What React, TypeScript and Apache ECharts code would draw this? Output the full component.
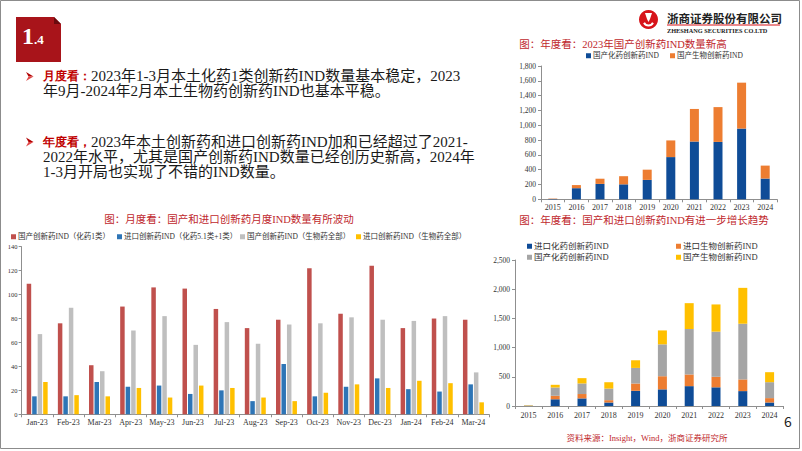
import React, { useEffect, useRef } from 'react';
import * as echarts from 'echarts';

// ---------- data ----------
const months = ['Jan-23', 'Feb-23', 'Mar-23', 'Apr-23', 'May-23', 'Jun-23', 'Jul-23', 'Aug-23', 'Sep-23', 'Oct-23', 'Nov-23', 'Dec-23', 'Jan-24', 'Feb-24', 'Mar-24'];
const monthlyDomesticChem = [109, 76, 41, 90, 106, 105, 88, 72, 79, 122, 84, 124, 72, 80, 79];
const monthlyImportChem = [15, 15, 27, 23, 24, 17, 20, 11, 42, 15, 23, 30, 21, 19, 25];
const monthlyDomesticBio = [67, 89, 36, 70, 82, 58, 77, 59, 75, 76, 81, 79, 78, 82, 35];
const monthlyImportBio = [27, 16, 15, 22, 14, 24, 22, 14, 11, 18, 25, 22, 28, 26, 10];
const monthlyNames = ['国产创新药IND（化药1类）', '进口创新药IND（化药5.1类+1类）', '国产创新药IND（生物药全部）', '进口创新药IND（生物药全部）'];

const years = ['2015', '2016', '2017', '2018', '2019', '2020', '2021', '2022', '2023', '2024'];
const annualDomesticChem = [5, 150, 208, 202, 262, 570, 780, 775, 955, 280];
const annualDomesticBio = [5, 42, 70, 110, 138, 225, 440, 470, 620, 175];
const annualNames = ['国产化药创新药IND', '国产生物创新药IND'];

const allImportChem = [3, 115, 130, 60, 260, 285, 340, 320, 255, 60];
const allImportBio = [2, 60, 75, 40, 125, 225, 200, 180, 200, 75];
const allDomesticChem = [5, 142, 181, 198, 267, 546, 778, 773, 954, 273];
const allDomesticBio = [5, 46, 91, 109, 131, 238, 443, 466, 614, 171];
const allNames = ['进口化药创新药IND', '进口生物创新药IND', '国产化药创新药IND', '国产生物创新药IND'];

const bullet1 = ['{r|月度看：}2023年1-3月本土化药1类创新药IND数量基本稳定，2023', '年9月-2024年2月本土生物药创新药IND也基本平稳。'];
const bullet2 = ['{r|年度看，}2023年本土创新药和进口创新药IND加和已经超过了2021-', '2022年水平，尤其是国产创新药IND数量已经创历史新高，2024年', '1-3月开局也实现了不错的IND数量。'];

// ---------- styles ----------
const SERIF = "'Liberation Serif', 'Times New Roman', 'Noto Sans CJK SC', serif";
const SANS = "'Noto Sans CJK SC', 'Noto Sans', sans-serif";
const RED_T = '#C0282D';
const AX = '#8f8f8f';
const fmt = (v: number) => v.toLocaleString('en-US');

const legendOne = (name: string, left: number, top: number, fontSize: number) => ({
  data: [name], left, top, padding: 0, itemWidth: 5, itemHeight: 5, icon: 'rect', selectedMode: false,
  textStyle: { fontSize, color: '#333', fontFamily: SERIF, padding: [0, 0, 0, -3] },
});

function txt(text: string, x: number, y: number, size: number, fill: string, align = 'left', extra: any = {}) {
  return { type: 'text', silent: true, style: { text, x, y, fill, font: `${size}px ${SERIF}`, textAlign: align, textVerticalAlign: 'middle', ...extra } };
}

export default function App() {
  const r1 = useRef<HTMLDivElement>(null);
  const r2 = useRef<HTMLDivElement>(null);
  const r3 = useRef<HTMLDivElement>(null);

  useEffect(() => {
    const c1 = echarts.init(r1.current!, undefined, { renderer: 'svg' });
    const c2 = echarts.init(r2.current!, undefined, { renderer: 'svg' });
    const c3 = echarts.init(r3.current!, undefined, { renderer: 'svg' });

    const rich = { r: { fill: '#C00000', fontWeight: 'bold', font: `bold 15px ${SERIF}` } };
    const graphics: any[] = [
      { type: 'rect', silent: true, shape: { x: 0.5, y: 0.5, width: 799, height: 448 }, style: { fill: 'none', stroke: '#8c8c8c', lineWidth: 1 } },
      // header box
      { type: 'polygon', silent: true, shape: { points: [[16, 17], [54, 17], [61, 24], [61, 62], [16, 62]] }, style: { fill: '#A8141A' } },
      { type: 'polygon', silent: true, shape: { points: [[54, 17], [61, 24], [54, 24]] }, style: { fill: '#6A0A0E' } },
      txt('1', 22, 36, 24, '#fff', 'left', { font: `bold 24px ${SERIF}` }),
      txt('.4', 34, 39, 13, '#fff', 'left', { font: `bold 13px ${SERIF}` }),
      // logo
      { type: 'circle', silent: true, shape: { cx: 648.5, cy: 19.5, r: 9.5 }, style: { fill: '#D7141A' } },
      { type: 'arc', silent: true, shape: { cx: 648.5, cy: 20.5, r: 5, startAngle: Math.PI * 0.15, endAngle: Math.PI * 0.85 }, style: { stroke: '#fff', lineWidth: 2, fill: 'none' } },
      { type: 'polygon', silent: true, shape: { points: [[645, 13], [652, 13], [650, 19], [648.5, 22], [647, 19]] }, style: { fill: '#fff' } },
      txt('浙商证券股份有限公司', 667, 18, 11.5, '#222', 'left', { font: `bold 11.5px ${SANS}` }),
      { type: 'line', silent: true, shape: { x1: 667, y1: 25, x2: 780, y2: 25 }, style: { stroke: '#D7141A', lineWidth: 1.2 } },
      txt('ZHESHANG SECURITIES CO.LTD', 667, 30.5, 6.3, '#222', 'left', { font: `bold 6.3px ${SERIF}` }),
      // bullets
      { type: 'polygon', silent: true, shape: { points: [[26, 72], [33.5, 76.5], [28.5, 76.5]] }, style: { fill: '#B00000' } },
      { type: 'polygon', silent: true, shape: { points: [[26, 81], [33.5, 76.5], [28.5, 76.5]] }, style: { fill: '#E04848' } },
      { type: 'polygon', silent: true, shape: { points: [[26, 137.5], [33.5, 142], [28.5, 142]] }, style: { fill: '#B00000' } },
      { type: 'polygon', silent: true, shape: { points: [[26, 146.5], [33.5, 142], [28.5, 142]] }, style: { fill: '#E04848' } },
      ...bullet1.map((t, i) => txt(t, 43, 76 + i * 15, 15, '#1a1a1a', 'left', { rich })),
      ...bullet2.map((t, i) => txt(t, 43, 141.5 + i * 15.3, 15, '#1a1a1a', 'left', { rich })),
      // chart titles
      txt('图：月度看：国产和进口创新药月度IND数量有所波动', 229, 219, 10.5, RED_T, 'center'),
      txt('图：年度看：2023年国产创新药IND数量新高', 623, 44, 10.5, RED_T, 'center'),
      txt('图：年度看：国产和进口创新药IND有进一步增长趋势', 644, 220, 10.5, RED_T, 'center'),
      txt('资料来源：Insight，Wind，浙商证券研究所', 647, 438, 8.5, RED_T, 'center'),
      txt('6', 788, 421, 14, '#222', 'center', { font: `14px ${SANS}` }),
    ];

    c1.setOption({
      animation: false,
      textStyle: { fontFamily: SERIF },
      graphic: { elements: graphics },
      legend: [
        legendOne(monthlyNames[0], 11, 233, 7.5),
        legendOne(monthlyNames[1], 117, 233, 7.5),
        legendOne(monthlyNames[2], 240, 233, 7.5),
        legendOne(monthlyNames[3], 356, 233, 7.5),
      ],
      grid: { left: 21.6, top: 246.7, width: 467.4, height: 167.6 },
      xAxis: {
        type: 'category', data: months,
        axisLine: { lineStyle: { color: AX } },
        axisTick: { show: true, length: 3, lineStyle: { color: AX } },
        axisLabel: { fontSize: 8, color: '#333', margin: 4, interval: 0, fontFamily: SERIF },
      },
      yAxis: {
        type: 'value', min: 0, max: 140, interval: 20,
        axisLine: { show: true, lineStyle: { color: AX } },
        axisTick: { show: true, length: 3, lineStyle: { color: AX } },
        splitLine: { show: false },
        axisLabel: { fontSize: 6.5, color: '#333', margin: 4, fontFamily: SERIF },
      },
      series: [
        { name: monthlyNames[0], type: 'bar', data: monthlyDomesticChem, barWidth: 4.5, barGap: '22%', itemStyle: { color: '#C0504D' } },
        { name: monthlyNames[1], type: 'bar', data: monthlyImportChem, barWidth: 4.5, barGap: '22%', itemStyle: { color: '#2E75B6' } },
        { name: monthlyNames[2], type: 'bar', data: monthlyDomesticBio, barWidth: 4.5, barGap: '22%', itemStyle: { color: '#BFBFBF' } },
        { name: monthlyNames[3], type: 'bar', data: monthlyImportBio, barWidth: 4.5, barGap: '22%', itemStyle: { color: '#FFC000' } },
      ],
    });

    c2.setOption({
      animation: false,
      textStyle: { fontFamily: SERIF },
      legend: [legendOne(annualNames[0], 586, 52, 7.5), legendOne(annualNames[1], 670, 52, 7.5)],
      grid: { left: 541, top: 66, width: 236, height: 133.3 },
      xAxis: {
        type: 'category', data: years,
        axisLine: { lineStyle: { color: AX } },
        axisTick: { show: true, length: 3, lineStyle: { color: AX } },
        axisLabel: { fontSize: 8, color: '#333', margin: 4, interval: 0, fontFamily: SERIF },
      },
      yAxis: {
        type: 'value', min: 0, max: 1800, interval: 200,
        axisLine: { show: true, lineStyle: { color: AX } },
        axisTick: { show: true, length: 3, lineStyle: { color: AX } },
        splitLine: { show: false },
        axisLabel: { fontSize: 7.5, color: '#333', margin: 5, formatter: fmt, fontFamily: SERIF },
      },
      series: [
        { name: annualNames[0], type: 'bar', stack: 'a', data: annualDomesticChem, barWidth: 9, itemStyle: { color: '#0F4C97' } },
        { name: annualNames[1], type: 'bar', stack: 'a', data: annualDomesticBio, barWidth: 9, itemStyle: { color: '#ED7D31' } },
      ],
    });

    c3.setOption({
      animation: false,
      textStyle: { fontFamily: SERIF },
      legend: [
        legendOne(allNames[0], 527, 242, 8.5),
        legendOne(allNames[1], 676, 242, 8.5),
        legendOne(allNames[2], 527, 253, 8.5),
        legendOne(allNames[3], 676, 253, 8.5),
      ],
      grid: { left: 515, top: 260, width: 268, height: 146 },
      xAxis: {
        type: 'category', data: years,
        axisLine: { lineStyle: { color: AX } },
        axisTick: { show: true, length: 3, lineStyle: { color: AX } },
        axisLabel: { fontSize: 8, color: '#333', margin: 5, interval: 0, fontFamily: SERIF },
      },
      yAxis: {
        type: 'value', min: 0, max: 2500, interval: 500,
        axisLine: { show: true, lineStyle: { color: AX } },
        axisTick: { show: true, length: 3, lineStyle: { color: AX } },
        splitLine: { show: false },
        axisLabel: { fontSize: 7.5, color: '#333', margin: 5, formatter: fmt, fontFamily: SERIF },
      },
      series: [
        { name: allNames[0], type: 'bar', stack: 'b', data: allImportChem, barWidth: 9, itemStyle: { color: '#0F4C97' } },
        { name: allNames[1], type: 'bar', stack: 'b', data: allImportBio, barWidth: 9, itemStyle: { color: '#ED7D31' } },
        { name: allNames[2], type: 'bar', stack: 'b', data: allDomesticChem, barWidth: 9, itemStyle: { color: '#A5A5A5' } },
        { name: allNames[3], type: 'bar', stack: 'b', data: allDomesticBio, barWidth: 9, itemStyle: { color: '#FFC000' } },
      ],
    });

    return () => { c1.dispose(); c2.dispose(); c3.dispose(); };
  }, []);

  const layer: React.CSSProperties = { position: 'absolute', left: 0, top: 0, width: 802, height: 451 };
  return (
    <div style={{ position: 'fixed', left: 0, top: 0, width: 802, height: 451, background: '#fff' }}>
      <div ref={r1} style={layer} />
      <div ref={r2} style={layer} />
      <div ref={r3} style={layer} />
    </div>
  );
}
